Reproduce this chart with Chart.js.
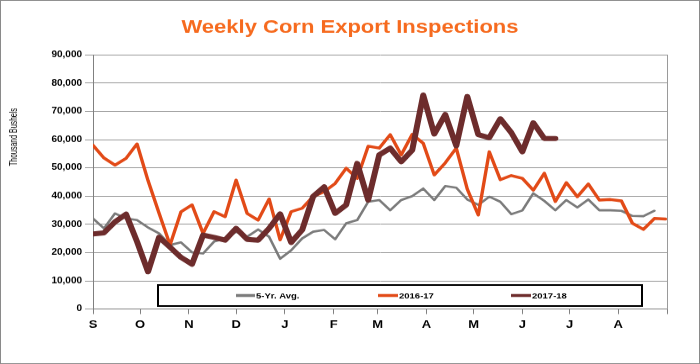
<!DOCTYPE html>
<html>
<head>
<meta charset="utf-8">
<script src="https://cdn.jsdelivr.net/npm/chart.js@4.4.1/dist/chart.umd.min.js"></script>
<style>
  html, body { margin: 0; padding: 0; background: #fff; overflow: hidden; }
  #wrap { position: absolute; left: 0; top: 0; width: 700px; height: 433px;
          transform: scaleY(0.84065); transform-origin: 0 0; }
</style>
</head>
<body>
<div id="wrap"><canvas id="c" width="700" height="433"></canvas></div>
<script>
// ---- data, one value per week starting first week of September
const weeks = Array.from({length: 53}, (_, i) => i);
const fiveYrAvg = [32100, 28600, 33900, 32100, 31500, 28900, 26800, 22700, 23600, 20100,
  19700, 23900, 25000, 27400, 25600, 28200, 25600, 17800, 20800, 25000,
  27400, 28000, 24700, 30400, 31500, 38000, 38600, 35000, 38600, 40000,
  42700, 38600, 43600, 43000, 38800, 36900, 39800, 38000, 33600, 34900,
  41000, 38300, 35000, 38600, 36000, 38800, 35000, 35000, 34800, 33000,
  32900, 34800, null];
const y2016 = [58000, 53500, 51000, 53400, 58500, 45500, 34000, 22700, 34500, 36900,
  26800, 34500, 32700, 45700, 33900, 31500, 39000, 24500, 34500, 35700,
  39900, 41600, 44500, 49900, 46300, 57700, 57000, 61800, 54600, 61900,
  58700, 47500, 51800, 57000, 42500, 33300, 55700, 45800, 47300, 46300,
  42100, 48100, 38100, 44800, 39800, 44300, 38600, 38800, 38300, 30400,
  28200, 32100, 31900];
const y2017 = [26600, 27000, 30900, 33600, 23900, 13200, 25400, 21900, 18300, 15900,
  26200, 25400, 24400, 28600, 24700, 24400, 28600, 33700, 23600, 28000,
  39900, 43300, 33900, 36900, 51600, 38600, 54600, 57000, 52200, 56300,
  75800, 62000, 68900, 57800, 75300, 61800, 60700, 67400, 62500, 55700,
  66000, 60400, 60400];
const seriesNames = ['5-Yr. Avg.', '2016-17', '2017-18'];
const monthLabels = ['S', 'O', 'N', 'D', 'J', 'F', 'M', 'A', 'M', 'J', 'J', 'A', ''];
const monthStartDay = [0, 30, 61, 91, 122, 153, 181, 212, 242, 273, 303, 334, 365];
const yTicks = [0, 10000, 20000, 30000, 40000, 50000, 60000, 70000, 80000, 90000];

const toXY = arr => arr.map((v, i) => ({x: weeks[i], y: v}));
const FONT = '"Liberation Sans", Arial, sans-serif';

const frame = {
  id: 'frame',
  afterDraw(chart) {
    const {ctx} = chart;
    ctx.save();
    // outer border
    ctx.strokeStyle = '#8a8a8a';
    ctx.lineWidth = 1;
    ctx.strokeRect(0.5, 0.5, 699, 432);
    // y title
    ctx.fillStyle = '#000';
    ctx.font = '11px ' + FONT;
    const txt = 'Thousand Bushels';
    const w = ctx.measureText(txt).width;
    ctx.translate(13.5, 163);
    ctx.rotate(-Math.PI / 2);
    ctx.scale(69 / w, 1);
    ctx.textAlign = 'center';
    ctx.textBaseline = 'middle';
    ctx.fillText(txt, 0, 0);
    ctx.restore();

    // legend box
    ctx.save();
    ctx.fillStyle = '#fff';
    ctx.fillRect(157.5, 338.5, 484.5, 25.5);
    ctx.strokeStyle = '#000';
    ctx.lineWidth = 2;
    ctx.strokeRect(158, 339, 484, 25);
    const items = [[236, 256], [378, 399], [511, 532]];
    const ly = 351.5;
    ctx.font = 'bold 9.5px ' + FONT;
    ctx.textBaseline = 'middle';
    ctx.textAlign = 'left';
    chart.data.datasets.forEach((ds, i) => {
      const [x0, tx] = items[i];
      ctx.strokeStyle = ds.borderColor;
      ctx.lineWidth = 3.5;
      ctx.beginPath();
      ctx.moveTo(x0, ly);
      ctx.lineTo(tx - 1, ly);
      ctx.stroke();
      ctx.fillStyle = '#000';
      ctx.fillText(ds.label, tx, ly + 0.5);
    });
    ctx.restore();
  }
};

new Chart(document.getElementById('c'), {
  type: 'line',
  data: {
    datasets: [
      {label: seriesNames[0], data: toXY(fiveYrAvg), borderColor: '#7b7b7b', borderWidth: 2.6, order: 3},
      {label: seriesNames[1], data: toXY(y2016), borderColor: '#E24A17', borderWidth: 3.4, order: 2},
      {label: seriesNames[2], data: toXY(y2017), borderColor: '#6D2C2C', borderWidth: 6, order: 1}
    ]
  },
  options: {
    responsive: false,
    animation: false,
    devicePixelRatio: 1,
    layout: {padding: {left: 0, right: 0, top: 0, bottom: 0}},
    elements: {
      point: {radius: 0},
      line: {tension: 0, borderJoinStyle: 'round', borderCapStyle: 'round', fill: false}
    },
    plugins: {
      legend: {display: false},
      tooltip: {enabled: false},
      title: {
        display: true,
        text: 'Weekly Corn Export Inspections',
        color: '#F66A1E',
        font: {family: FONT, size: 22, weight: 'bold', lineHeight: 1.2},
        padding: {top: 20, bottom: 19}
      }
    },
    scales: {
      x: {
        type: 'linear',
        min: 0,
        max: monthStartDay[12] / 7,
        afterBuildTicks: s => { s.ticks = monthStartDay.map(d => ({value: d / 7})); },
        afterFit: s => { s.height = 65.4; },
        grid: {drawOnChartArea: false, drawTicks: true, tickLength: 6, color: '#808080'},
        border: {color: '#808080', width: 1},
        ticks: {
          autoSkip: false, maxRotation: 0, padding: 5, color: '#000',
          font: {family: FONT, size: 13, weight: 'bold'},
          callback: (v, i) => monthLabels[i]
        }
      },
      y: {
        min: 0, max: 90000,
        afterBuildTicks: s => { s.ticks = yTicks.map(v => ({value: v})); },
        afterFit: s => { s.width = 93; },
        grid: {color: '#9a9a9a', tickLength: 8, lineWidth: 1},
        border: {color: '#808080', width: 1},
        ticks: {
          padding: 3, color: '#000',
          font: {family: FONT, size: 10, weight: 'bold'},
          callback: v => v.toLocaleString('en-US')
        }
      },
      yr: {
        position: 'right',
        min: 0, max: 90000,
        afterFit: s => { s.width = 33; },
        grid: {drawOnChartArea: false, drawTicks: false},
        border: {display: true, color: '#9a9a9a', width: 1},
        ticks: {display: false}
      }
    }
  },
  plugins: [frame]
});
</script>
</body>
</html>
